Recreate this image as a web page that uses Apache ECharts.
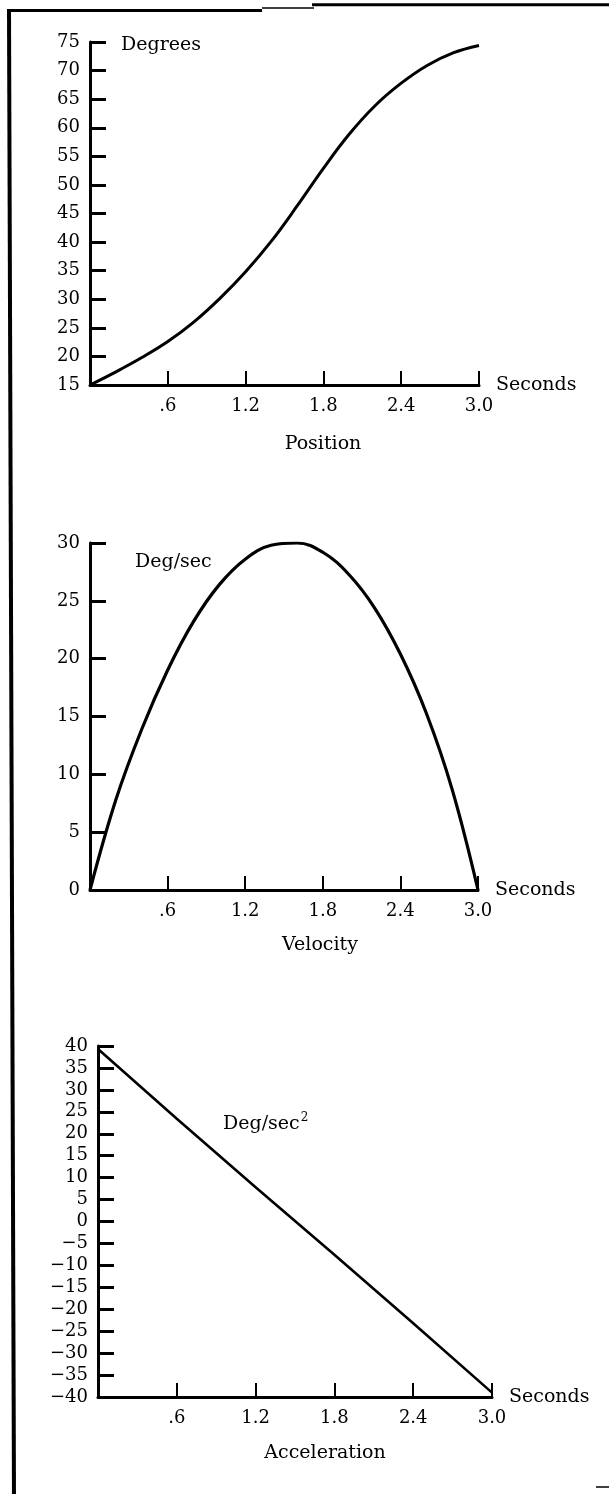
<!DOCTYPE html>
<html>
<head>
<meta charset="utf-8">
<script src="https://cdn.jsdelivr.net/npm/echarts@6/dist/echarts.min.js"></script>
<style>
  html, body { margin: 0; padding: 0; background: #fff; }
  #chart { width: 609px; height: 1494px; }
</style>
</head>
<body>
<div id="chart"></div>
<script>
// Time samples (seconds) shared by the position and velocity curves
const seconds = [0, 0.2, 0.4, 0.6, 0.8, 1.0, 1.2, 1.4, 1.6, 1.8, 2.0, 2.2, 2.4, 2.6, 2.8, 3.0];
// Joint angle (degrees)
const positionDeg = [15, 17.3, 19.8, 22.6, 26.0, 30.1, 34.8, 40.2, 46.4, 52.9, 58.9, 63.9, 67.8, 70.9, 73.1, 74.4];
// Angular velocity (deg/sec)
const velocityDeg = [0, 7.8, 13.9, 19.0, 23.2, 26.4, 28.6, 29.8, 30.0, 29.2, 27.3, 24.4, 20.4, 15.3, 8.7, 0];
// Angular acceleration (deg/sec^2), straight line
const accelSeconds = [0, 0.6, 1.2, 1.8, 2.4, 3.0];
const accelDeg = [39.3, 23.4, 7.8, -7.6, -23.2, -39];

const FONT = 'DejaVu Serif';
const INK = '#000';

function pairs(xs, ys) { return xs.map((x, i) => [x, ys[i]]); }

function xAxisFor(gridIndex) {
  return {
    type: 'value', gridIndex, min: 0, max: 3, interval: 0.6,
    name: 'Seconds', nameLocation: 'end', nameGap: 17,
    nameTextStyle: { color: INK, fontFamily: FONT, fontSize: 19, verticalAlign: 'middle', padding: [0, 0, 6, 0] },
    axisLine: { show: true, onZero: false, lineStyle: { color: INK, width: 3 } },
    axisTick: { show: true, inside: true, length: 14, lineStyle: { color: INK, width: 2 } },
    splitLine: { show: false },
    axisLabel: {
      color: INK, fontFamily: FONT, fontSize: 18, margin: 12,
      formatter: v => v === 0 ? '' : v.toFixed(1).replace(/^0/, '')
    }
  };
}

function yAxisFor(gridIndex, min, max) {
  return {
    type: 'value', gridIndex, min, max, interval: 5,
    axisLine: { show: true, onZero: false, lineStyle: { color: INK, width: 3 } },
    axisTick: { show: true, inside: true, length: 16, lineStyle: { color: INK, width: 3 } },
    splitLine: { show: false },
    axisLabel: {
      color: INK, fontFamily: FONT, fontSize: 18, margin: 10,
      formatter: v => v < 0 ? '\u2212' + (-v) : String(v)
    }
  };
}

const textStyle = (extra) => Object.assign({ fill: INK, fontFamily: FONT, fontSize: 19 }, extra);

const curve = (name, idx, data, width) => ({
  name, type: 'line', xAxisIndex: idx, yAxisIndex: idx,
  data, smooth: 0.4, showSymbol: false,
  lineStyle: { color: INK, width }
});

const option = {
  backgroundColor: '#fff',
  animation: false,
  grid: [
    { left: 90, top: 42, width: 389, height: 343 },
    { left: 90, top: 543, width: 388, height: 347 },
    { left: 98, top: 1046, width: 394, height: 351 }
  ],
  xAxis: [xAxisFor(0), xAxisFor(1), xAxisFor(2)],
  yAxis: [yAxisFor(0, 15, 75), yAxisFor(1, 0, 30), yAxisFor(2, -40, 40)],
  series: [
    curve('Position', 0, pairs(seconds, positionDeg), 3),
    curve('Velocity', 1, pairs(seconds, velocityDeg), 3.2),
    {
      name: 'Acceleration', type: 'line', xAxisIndex: 2, yAxisIndex: 2,
      data: pairs(accelSeconds, accelDeg), smooth: false, showSymbol: false,
      lineStyle: { color: INK, width: 2.6 }
    }
  ],
  graphic: [
    // page frame
    { type: 'line', shape: { x1: 7, y1: 10.5, x2: 262, y2: 10.5 }, style: { stroke: INK, lineWidth: 3 } },
    { type: 'line', shape: { x1: 262, y1: 8, x2: 314, y2: 8 }, style: { stroke: INK, lineWidth: 1.5 } },
    { type: 'line', shape: { x1: 312, y1: 4.7, x2: 609, y2: 4.7 }, style: { stroke: INK, lineWidth: 3 } },
    { type: 'line', shape: { x1: 9, y1: 9, x2: 14, y2: 1494 }, style: { stroke: INK, lineWidth: 4 } },
    { type: 'line', shape: { x1: 596, y1: 1487, x2: 609, y2: 1487 }, style: { stroke: INK, lineWidth: 1.5 } },
    // unit captions
    { type: 'text', left: 121, top: 36, style: textStyle({ text: 'Degrees' }) },
    { type: 'text', left: 135, top: 553, style: textStyle({ text: 'Deg/sec' }) },
    {
      type: 'text', left: 223, top: 1112,
      style: textStyle({
        text: '{b|Deg/sec}{s|2}',
        rich: {
          b: { fontFamily: FONT, fontSize: 19, fill: INK, verticalAlign: 'bottom' },
          s: { fontFamily: FONT, fontSize: 12, fill: INK, verticalAlign: 'top', padding: [0, 0, 10, 1] }
        }
      })
    },
    // chart captions
    { type: 'text', x: 323, y: 444, style: textStyle({ text: 'Position', align: 'center', verticalAlign: 'middle' }) },
    { type: 'text', x: 320, y: 945, style: textStyle({ text: 'Velocity', align: 'center', verticalAlign: 'middle' }) },
    { type: 'text', x: 325, y: 1453, style: textStyle({ text: 'Acceleration', align: 'center', verticalAlign: 'middle' }) }
  ]
};

const chart = echarts.init(document.getElementById('chart'), null, { renderer: 'canvas' });
chart.setOption(option);
</script>
</body>
</html>
